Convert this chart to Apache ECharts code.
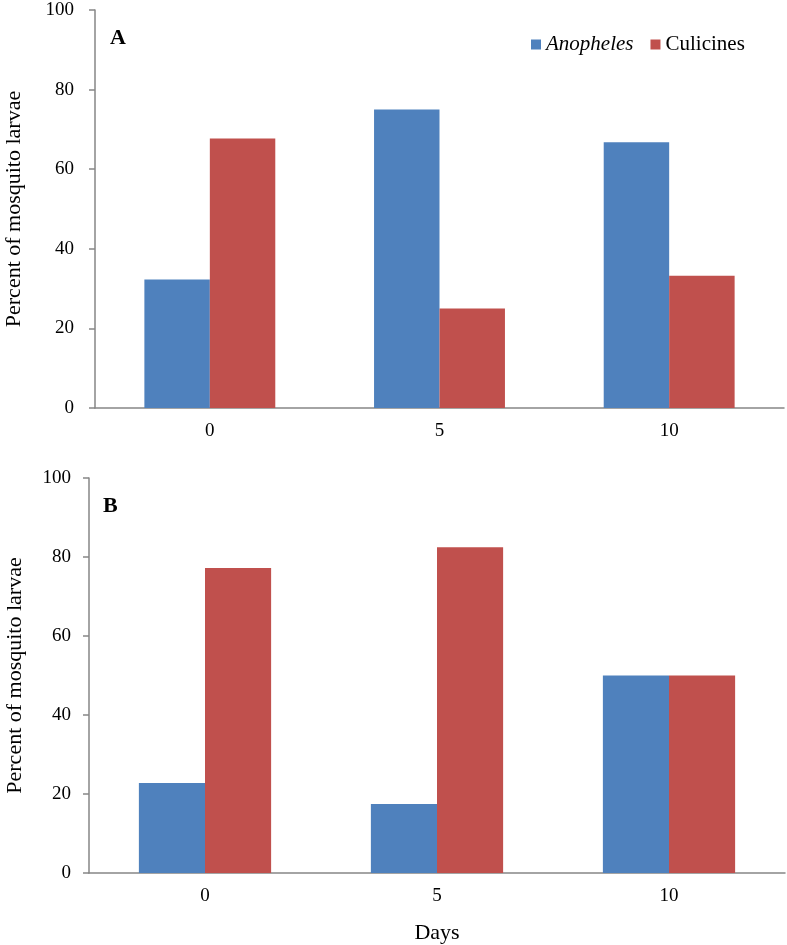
<!DOCTYPE html>
<html><head><meta charset="utf-8">
<script src="https://cdn.jsdelivr.net/npm/echarts@6/dist/echarts.min.js"></script>
<style>html,body{margin:0;padding:0;background:#fff}#c{width:787px;height:945px}</style>
</head><body><div id="c"></div>
<script>
const categories = ['0', '5', '10'];
const yTicks = [0, 20, 40, 60, 80, 100];
const anophelesA = [32.3, 75.0, 66.8];
const culicinesA = [67.7, 25.0, 33.2];
const anophelesB = [22.8, 17.5, 50.0];
const culicinesB = [77.2, 82.5, 50.0];

const FONT = 'Liberation Serif';
const BLUE = '#4F81BD', RED = '#C0504D', AXIS = '#868686';

const chart = echarts.init(document.getElementById('c'));
function xAxis(gi, name) {
  return {
    type: 'category', gridIndex: gi, data: categories,
    axisLine: {lineStyle: {color: AXIS, width: 1.5}},
    axisTick: {lineStyle: {color: AXIS, width: 1.5}, length: 5},
    axisLabel: {fontFamily: FONT, fontSize: 19, color: '#000', margin: 14},
    name: name, nameLocation: 'middle', nameGap: 49, nameMoveOverlap: false,
    nameTextStyle: {fontFamily: FONT, fontSize: 22, color: '#000'}
  };
}
function yAxis(gi, margin, gap) {
  return {
    type: 'value', gridIndex: gi, min: yTicks[0], max: yTicks[yTicks.length - 1], interval: 20,
    axisLine: {show: true, lineStyle: {color: AXIS, width: 1.5}},
    axisTick: {show: true, lineStyle: {color: AXIS, width: 1.5}, length: 6},
    splitLine: {show: false},
    axisLabel: {fontFamily: FONT, fontSize: 19, color: '#000', margin: margin},
    name: 'Percent of mosquito larvae', nameLocation: 'middle', nameGap: gap, nameMoveOverlap: false,
    nameTextStyle: {fontFamily: FONT, fontSize: 22, color: '#000'}
  };
}
function bar(name, data, gi, color) {
  return {
    type: 'bar', name: name, data: data, xAxisIndex: gi, yAxisIndex: gi,
    barGap: '0%', barCategoryGap: '43%', itemStyle: {color: color},
    emphasis: {disabled: true}
  };
}
chart.setOption({
  animation: false,
  textStyle: {fontFamily: FONT},
  grid: [
    {left: 95, right: 3, top: 10, height: 398, containLabel: false, outerBoundsMode: 'none'},
    {left: 89, right: 2, top: 478, height: 395, containLabel: false, outerBoundsMode: 'none'}
  ],
  xAxis: [xAxis(0, ''), xAxis(1, 'Days')],
  yAxis: [yAxis(0, 21, 70), yAxis(1, 18, 63)],
  legend: {
    left: 526, top: 29, itemWidth: 10, itemHeight: 10, itemGap: 17,
    icon: 'rect',
    data: ['Anopheles', 'Culicines'],
    formatter: n => n === 'Anopheles' ? '{i|Anopheles}' : '{n|Culicines}',
    textStyle: {
      fontFamily: FONT, fontSize: 21, color: '#000',
      rich: {
        i: {fontFamily: FONT, fontSize: 21, fontStyle: 'italic', color: '#000'},
        n: {fontFamily: FONT, fontSize: 21, color: '#000'}
      }
    }
  },
  graphic: [
    {type: 'text', left: 110, top: 27, style: {text: 'A', font: 'bold 22px "Liberation Serif"', fill: '#000'}},
    {type: 'text', left: 103, top: 495, style: {text: 'B', font: 'bold 22px "Liberation Serif"', fill: '#000'}}
  ],
  series: [
    bar('Anopheles', anophelesA, 0, BLUE),
    bar('Culicines', culicinesA, 0, RED),
    bar('Anopheles', anophelesB, 1, BLUE),
    bar('Culicines', culicinesB, 1, RED)
  ]
});
</script></body></html>
